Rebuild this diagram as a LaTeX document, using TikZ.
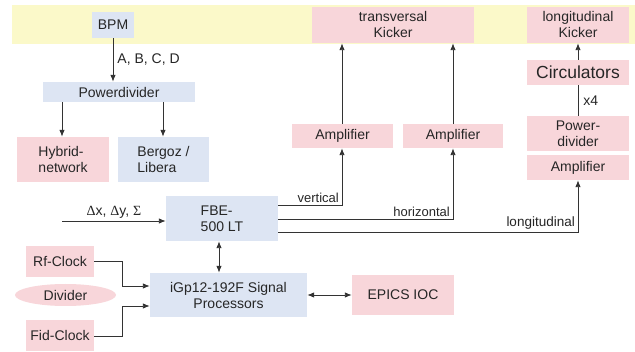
\documentclass[tikz,border=0pt]{standalone}
\usepackage{fontspec}
\setmainfont{Liberation Sans}
\newfontfamily\symfont{Liberation Serif}
\usetikzlibrary{arrows.meta,shapes.geometric}
\definecolor{bpink}{HTML}{F8D6DA}
\definecolor{bblue}{HTML}{DDE5F3}
\definecolor{byellow}{HTML}{FBF9C9}
\definecolor{lgray}{HTML}{333333}
\begin{document}
\begin{tikzpicture}[x=1pt,y=-1pt,
  pinkbox/.style={fill=bpink, inner sep=0pt, font=\fontsize{14}{16}\selectfont, align=center, text=black!85},
  bluebox/.style={fill=bblue, inner sep=0pt, font=\fontsize{14}{16}\selectfont, align=center, text=black!85},
  lbl/.style={inner sep=1pt, font=\fontsize{13}{15}\selectfont, text=black!85},
  conn/.style={draw=lgray, line width=0.9pt},
  arr/.style={conn, -{Latex[length=7pt,width=5.5pt]}},
  darr/.style={conn, {Latex[length=7pt,width=5.5pt]}-{Latex[length=7pt,width=5.5pt]}}]
\useasboundingbox (0,0) rectangle (635,352);
\fill[white] (0,0) rectangle (635,352);
\fill[byellow] (12,5) rectangle (635,44);
% nodes
\node[bluebox, minimum width=42, minimum height=26] (bpm) at (113,25) {BPM};
\node[bluebox, minimum width=152, minimum height=20] (pd) at (119,92) {Powerdivider};
\node[pinkbox, minimum width=92, minimum height=45, align=left] (hy) at (63,159.5) {Hybrid-\\network};
\node[bluebox, minimum width=91, minimum height=45, align=left] (bl) at (163.5,159.5) {Bergoz /\\Libera};
\node[pinkbox, minimum width=162, minimum height=36] (tk) at (393,25) {transversal\\Kicker};
\node[pinkbox, minimum width=102, minimum height=36] (lk) at (578,25) {longitudinal\\Kicker};
\node[pinkbox, minimum width=102, minimum height=25, font=\fontsize{17.5}{20}\selectfont] (circ) at (578,72.5) {Circulators};
\node[pinkbox, minimum width=102, minimum height=35] (pdiv) at (578,133.5) {Power-\\divider};
\node[pinkbox, minimum width=102, minimum height=25] (ampl) at (578,167.5) {Amplifier};
\node[pinkbox, minimum width=101, minimum height=24] (amp1) at (342.5,136) {Amplifier};
\node[pinkbox, minimum width=100, minimum height=24] (amp2) at (453,136) {Amplifier};
\node[bluebox, minimum width=112, minimum height=45, align=left] (fbe) at (222,218.5) {FBE-\\500 LT};
\node[bluebox, minimum width=157, minimum height=44] (igp) at (228.5,295) {iGp12-192F Signal\\Processors};
\node[pinkbox, minimum width=68, minimum height=31] (rf) at (60,261.5) {Rf-Clock};
\node[ellipse, fill=bpink, inner sep=0pt, minimum width=101, minimum height=22, font=\fontsize{14}{16}\selectfont, text=black!85] (div) at (65.5,295) {Divider};
\node[pinkbox, minimum width=68, minimum height=31] (fid) at (60,335.5) {Fid-Clock};
\node[pinkbox, minimum width=102, minimum height=40] (epics) at (403,295) {EPICS IOC};
% coordinates
\coordinate (in) at (62,221);
\coordinate (cv) at (342,205);
\coordinate (ch) at (453,219);
\coordinate (cl) at (578,232);
\coordinate (cx) at (219,0);
\coordinate (rfc) at (122,261);
\coordinate (fdc) at (122,336);
% connectors
\draw[arr] (bpm.south) -- (pd.north -| bpm.south) node[lbl, midway, right=3pt, font=\fontsize{14}{16}\selectfont] {A, B, C, D};
\draw[arr] (pd.south -| 62,0) -- (hy.north -| 62,0);
\draw[arr] (pd.south -| 163,0) -- (bl.north -| 163,0);
\draw[arr] (amp1.north -| 342,0) -- (tk.south -| 342,0);
\draw[arr] (amp2.north) -- (tk.south -| amp2.north);
\draw[arr] (circ.north) -- (lk.south);
\draw[conn] (pdiv.north) -- (circ.south) node[lbl, midway, right=4pt, font=\fontsize{14}{16}\selectfont] {x4};
\draw[arr] (fbe.east |- cv) -- (cv) -- (amp1.south -| cv);
\node[lbl, anchor=south east, inner sep=0pt] at ([shift={(-3,-2)}]cv) {vertical};
\draw[arr] (fbe.east |- ch) -- (ch) -- (amp2.south -| ch);
\node[lbl, anchor=south east, inner sep=0pt] at ([shift={(-3,-2)}]ch) {horizontal};
\draw[arr] (fbe.east |- cl) -- (cl) -- (ampl.south);
\node[lbl, anchor=south east, inner sep=0pt, font=\fontsize{13.5}{15}\selectfont] at ([shift={(-3,-2)}]cl) {longitudinal};
\draw[arr] (in) -- (in -| fbe.west) node[lbl, midway, above=1pt, font=\fontsize{14}{16}\selectfont] {{\symfont Δ}x, {\symfont Δ}y, {\symfont Σ}};
\draw[darr] (fbe.south -| cx) -- (igp.north -| cx);
\draw[arr] (rf.east |- rfc) -- (rfc) -- (122,286) -- (igp.west |- 0,286);
\draw[arr] (fid.east |- fdc) -- (fdc) -- (122,306) -- (igp.west |- 0,306);
\draw[darr] (igp.east) -- (epics.west);
\end{tikzpicture}
\end{document}
